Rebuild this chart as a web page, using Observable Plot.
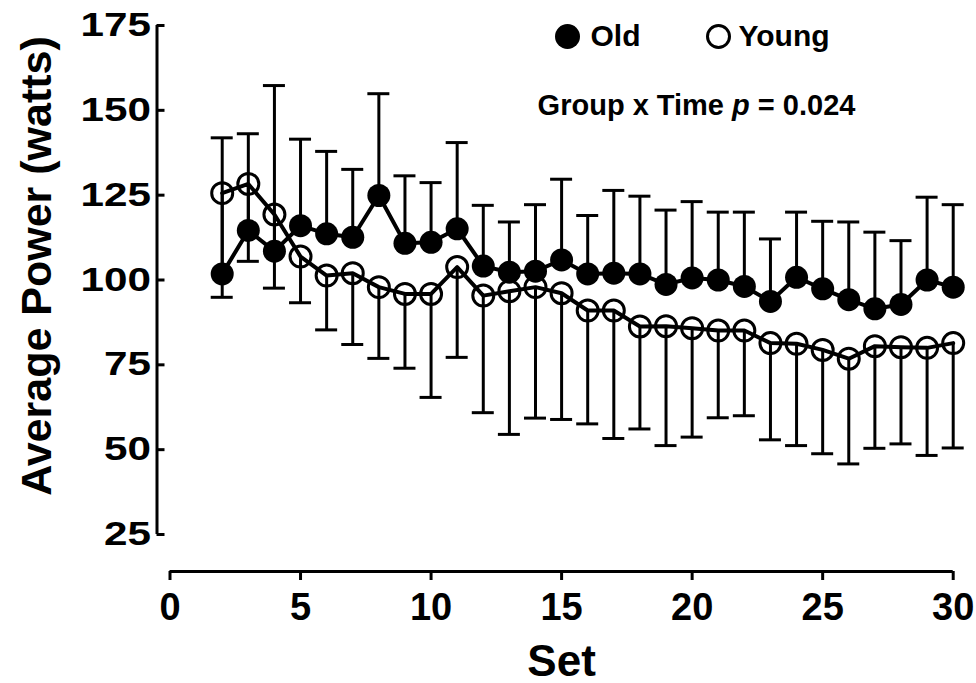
<!DOCTYPE html>
<html>
<head>
<meta charset="utf-8">
<script src="https://cdn.jsdelivr.net/npm/d3@7"></script>
<script src="https://cdn.jsdelivr.net/npm/@observablehq/plot@0.6"></script>
<style>
  html, body { margin: 0; padding: 0; background: #fff; }
  #chart svg { display: block; }
</style>
</head>
<body>
<div id="chart"></div>
<script>
// ---- data ----
const sets = [2,3,4,5,6,7,8,9,10,11,12,13,14,15,16,17,18,19,20,21,22,23,24,25,26,27,28,29,30];
const oldMean  = [101.8,114.6,108.5,116.0,113.6,112.6,124.9,110.8,111.1,115.1,104.1,102.3,102.6,105.9,101.8,102.0,101.8,98.7,100.6,100.0,98.1,93.7,100.8,97.4,94.2,91.5,92.8,100.0,97.9];
const oldUpper = [141.9,143.1,157.3,141.5,137.9,132.6,154.9,130.7,128.7,140.5,122.0,117.1,122.2,129.7,119.0,126.4,124.7,120.6,123.1,120.0,120.0,112.1,120.0,117.3,117.1,114.1,111.6,124.4,122.2];
const youngMean  = [125.6,128.3,119.3,106.9,101.3,102.0,97.9,95.9,95.9,103.8,95.4,96.7,97.9,96.1,91.0,91.0,86.3,86.4,85.8,85.1,85.1,81.4,81.2,79.4,76.8,80.5,80.2,80.0,81.4];
const youngLower = [94.9,105.5,97.6,93.3,85.3,81.0,76.9,74.0,65.4,77.2,60.9,54.5,59.3,58.9,57.6,53.3,56.1,51.2,53.7,59.4,60.0,52.9,51.2,48.8,45.8,50.4,51.7,48.3,50.5];

const xTicks = [0,5,10,15,20,25,30];
const yTicks = [25,50,75,100,125,150,175];
const xTitle = "Set";
const yTitle = "Average Power (watts)";
const groups = ["Old", "Young"];
const statParts = ["Group x Time ", "p", " = 0.024"];

// ---- tables built from the arrays ----
const oldData = sets.map((s, i) => ({set: s, mean: oldMean[i], bar: oldUpper[i]}));
const youngData = sets.map((s, i) => ({set: s, mean: youngMean[i], bar: youngLower[i]}));

const font = "'Liberation Sans', Arial, Helvetica, sans-serif";
const narrowFont = "'Liberation Sans Narrow', 'Arial Narrow', 'Liberation Sans', sans-serif";
const yMin = d3.min(yTicks), yMax = d3.max(yTicks);
const xMin = d3.min(xTicks), xMax = d3.max(xTicks);
const yAxisShift = -13;   // y axis line sits left of the x origin
const xAxisShift = 37;    // x axis line sits below the y minimum
const yLabelStretch = 1.28;

const svg = Plot.plot({
  width: 976,
  height: 683,
  marginLeft: 169.5,
  marginRight: 23.3,
  marginTop: 25,
  marginBottom: 149,
  x: {domain: [xMin, xMax], axis: null},
  y: {domain: [yMin, yMax], axis: null},
  style: {fontFamily: font, fontWeight: "bold", background: "#fff", color: "#000", overflow: "visible"},
  marks: [
    // y axis
    Plot.ruleX([xMin], {y1: yMin, y2: yMax, dx: yAxisShift, stroke: "#000", strokeWidth: 3}),
    Plot.ruleY(yTicks, {y: d => d, x1: xMin, x2: xMin, insetRight: -8, dx: yAxisShift, stroke: "#000", strokeWidth: 3}),
    Plot.text(yTicks, {y: d => d, frameAnchor: "left", text: d => String(d), textAnchor: "end", lineAnchor: "middle",
      dx: yAxisShift - 6, fontSize: 33, fontWeight: "bold", fill: "#000"}),
    Plot.text([yTitle], {frameAnchor: "left", rotate: -90, textAnchor: "middle", lineAnchor: "middle",
      dx: -133, dy: -14, fontSize: 43, fontWeight: "bold", fill: "#000"}),
    // x axis
    Plot.ruleY([yMin], {x1: xMin, x2: xMax, dy: xAxisShift, stroke: "#000", strokeWidth: 3}),
    Plot.ruleX(xTicks, {x: d => d, y1: yMin, y2: yMin, insetBottom: -9, dy: xAxisShift, stroke: "#000", strokeWidth: 3}),
    Plot.text(xTicks, {x: d => d, frameAnchor: "bottom", text: d => String(d), lineAnchor: "middle", dy: 73,
      fontSize: 38, fontWeight: "bold", fontFamily: narrowFont, fill: "#000"}),
    Plot.text([xTitle], {frameAnchor: "bottom", lineAnchor: "middle", dy: 127, fontSize: 44, fontWeight: "bold", fill: "#000"}),

    // error bars: Old upward, Young downward
    Plot.ruleX(oldData, {x: "set", y1: "mean", y2: "bar", stroke: "#000", strokeWidth: 3}),
    Plot.ruleY(oldData, {y: "bar", x1: "set", x2: "set", insetLeft: -11, insetRight: -11, stroke: "#000", strokeWidth: 3}),
    Plot.ruleX(youngData, {x: "set", y1: "mean", y2: "bar", stroke: "#000", strokeWidth: 3}),
    Plot.ruleY(youngData, {y: "bar", x1: "set", x2: "set", insetLeft: -11, insetRight: -11, stroke: "#000", strokeWidth: 3}),

    // lines
    Plot.line(youngData, {x: "set", y: "mean", stroke: "#000", strokeWidth: 4}),
    Plot.line(oldData, {x: "set", y: "mean", stroke: "#000", strokeWidth: 4}),

    // points
    Plot.dot(youngData, {x: "set", y: "mean", r: 10.5, fill: "none", stroke: "#000", strokeWidth: 3}),
    Plot.dot(oldData, {x: "set", y: "mean", r: 11.5, fill: "#000", stroke: "none"}),

    // legend
    Plot.dot([groups[0]], {frameAnchor: "top-left", dx: 397.5, dy: 11, r: 12.5, fill: "#000"}),
    Plot.text([groups[0]], {frameAnchor: "top-left", dx: 420.5, dy: 11, text: d => d, textAnchor: "start", lineAnchor: "middle", fontSize: 30, fontWeight: "bold", fill: "#000"}),
    Plot.dot([groups[1]], {frameAnchor: "top-left", dx: 548.5, dy: 11, r: 11, fill: "none", stroke: "#000", strokeWidth: 3}),
    Plot.text([groups[1]], {frameAnchor: "top-left", dx: 568.5, dy: 11, text: d => d, textAnchor: "start", lineAnchor: "middle", fontSize: 30, fontWeight: "bold", fill: "#000"}),

    // statistics annotation
    Plot.text([statParts.join("")], {frameAnchor: "top-left", dx: 526.5, dy: 80, text: d => d, textAnchor: "middle", lineAnchor: "middle", fontSize: 29, fontWeight: "bold", fill: "#000"})
  ]
});

// widen the y tick labels (as in the reference) around their right-hand anchor
const yLabelTexts = new Set(yTicks.map(String));
svg.querySelectorAll("text").forEach(t => {
  const anchor = t.getAttribute("text-anchor") || (t.parentNode && t.parentNode.getAttribute && t.parentNode.getAttribute("text-anchor"));
  if (anchor === "end" && yLabelTexts.has(t.textContent)) {
    const tr = t.getAttribute("transform") || "";
    t.setAttribute("transform", `${tr} scale(${yLabelStretch},1)`);
  }
});

// italicise the "p" in the annotation
const full = statParts.join("");
svg.querySelectorAll("text").forEach(t => {
  if (t.textContent === full) {
    while (t.firstChild) t.removeChild(t.firstChild);
    statParts.forEach((part, i) => {
      const ts = document.createElementNS("http://www.w3.org/2000/svg", "tspan");
      ts.textContent = part;
      if (i === 1) ts.setAttribute("font-style", "italic");
      ts.style.whiteSpace = "pre";
      t.appendChild(ts);
    });
    t.style.whiteSpace = "pre";
  }
});

document.getElementById("chart").appendChild(svg);
</script>
</body>
</html>
